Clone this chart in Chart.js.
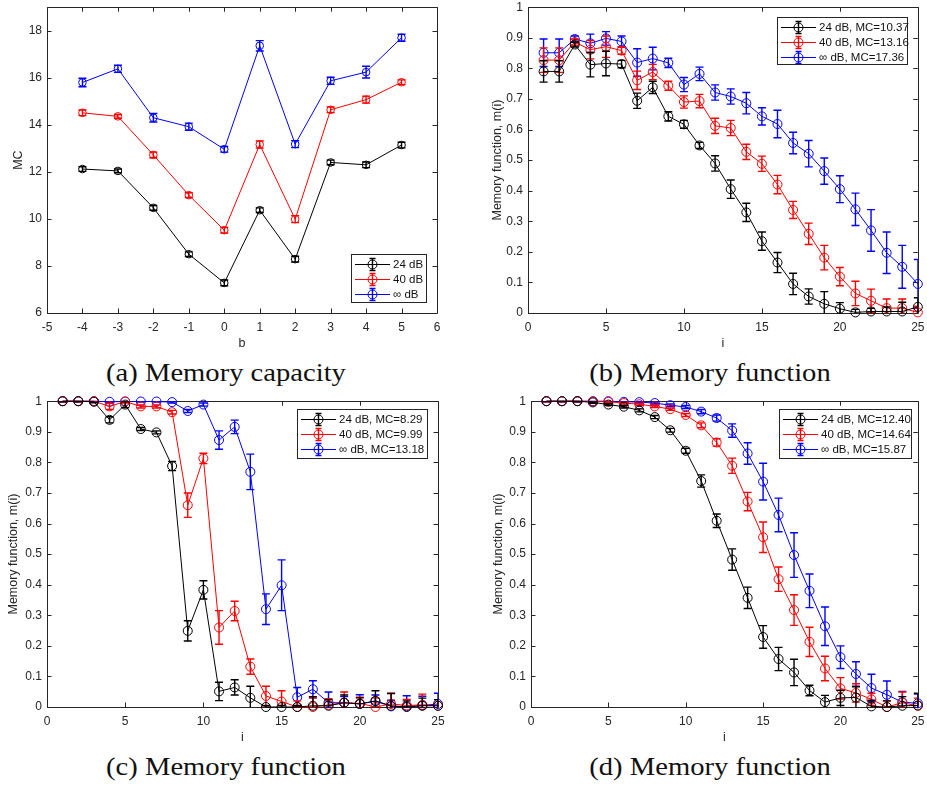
<!DOCTYPE html>
<html>
<head>
<meta charset="utf-8">
<script src="https://cdn.jsdelivr.net/npm/chart.js@4.4.1/dist/chart.umd.min.js"></script>
<style>
  body { margin: 0; background: #fff; width: 927px; height: 787px; overflow: hidden; position: relative; }
  canvas { position: absolute; }
  .cap { position: absolute; width: 460px; height: 28px; line-height: 28px; text-align: center;
         font-family: "Liberation Serif", "DejaVu Serif", serif; font-size: 26px; color: #111;
         transform: scaleX(1.1); }
</style>
</head>
<body>
<canvas id="chartA" width="462" height="357" style="left:0px;top:-5px"></canvas>
<canvas id="chartB" width="470" height="357" style="left:462px;top:-5px"></canvas>
<canvas id="chartC" width="462" height="357" style="left:0px;top:389px"></canvas>
<canvas id="chartD" width="470" height="357" style="left:462px;top:389px"></canvas>
<div class="cap" style="left:-4px;top:359px">(a) Memory capacity</div>
<div class="cap" style="left:480px;top:359px">(b) Memory function</div>
<div class="cap" style="left:-4px;top:753px">(c) Memory function</div>
<div class="cap" style="left:480px;top:753px">(d) Memory function</div>
<script>
// memory capacity against b
var bVals = [-4, -3, -2, -1, 0, 1, 2, 3, 4, 5];
var mc24 = [12.12, 12.04, 10.47, 8.50, 7.28, 10.37, 8.29, 12.40, 12.30, 13.14];
var mc40 = [14.51, 14.36, 12.72, 11.01, 9.52, 13.16, 9.99, 14.64, 15.07, 15.81];
var mcInf = [15.80, 16.38, 14.30, 13.92, 12.96, 17.36, 13.18, 15.87, 16.24, 17.70];
var mc24Err = [0.10, 0.08, 0.10, 0.10, 0.12, 0.10, 0.12, 0.10, 0.12, 0.12];
var mc40Err = [0.12, 0.08, 0.12, 0.10, 0.12, 0.15, 0.15, 0.12, 0.15, 0.10];
var mcInfErr = [0.18, 0.15, 0.18, 0.15, 0.12, 0.22, 0.15, 0.15, 0.25, 0.15];

// memory function m(i), delay i = 1..25
var iVals = [1, 2, 3, 4, 5, 6, 7, 8, 9, 10, 11, 12, 13, 14, 15, 16, 17, 18, 19, 20, 21, 22, 23, 24, 25];

// b = 1
var mfB1_24 = [0.790, 0.790, 0.878, 0.812, 0.816, 0.814, 0.694, 0.738, 0.643, 0.617, 0.548, 0.489, 0.405, 0.329, 0.235, 0.165, 0.095, 0.054, 0.030, 0.014, 0.002, 0.005, 0.005, 0.005, 0.020];
var mfB1_24Err = [0.035, 0.035, 0.008, 0.040, 0.040, 0.012, 0.025, 0.020, 0.015, 0.013, 0.010, 0.025, 0.030, 0.030, 0.030, 0.033, 0.035, 0.025, 0.040, 0.020, 0.010, 0.010, 0.015, 0.030, 0.030];
var mfB1_40 = [0.827, 0.827, 0.886, 0.861, 0.871, 0.858, 0.761, 0.788, 0.743, 0.690, 0.693, 0.612, 0.605, 0.527, 0.488, 0.420, 0.337, 0.259, 0.181, 0.119, 0.064, 0.040, 0.016, 0.016, 0.002];
var mfB1_40Err = [0.040, 0.040, 0.010, 0.030, 0.035, 0.012, 0.030, 0.025, 0.015, 0.020, 0.022, 0.025, 0.025, 0.025, 0.025, 0.030, 0.028, 0.035, 0.040, 0.030, 0.040, 0.038, 0.030, 0.030, 0.020];
var mfB1_inf = [0.851, 0.851, 0.896, 0.882, 0.898, 0.888, 0.819, 0.832, 0.818, 0.747, 0.782, 0.721, 0.708, 0.686, 0.643, 0.618, 0.556, 0.521, 0.464, 0.405, 0.339, 0.270, 0.197, 0.151, 0.095];
var mfB1_infErr = [0.045, 0.045, 0.010, 0.030, 0.022, 0.018, 0.045, 0.037, 0.015, 0.023, 0.022, 0.025, 0.025, 0.035, 0.028, 0.045, 0.035, 0.043, 0.043, 0.044, 0.053, 0.068, 0.068, 0.070, 0.080];

// b = 2
var mfB2_24 = [1.000, 1.000, 0.998, 0.939, 0.989, 0.909, 0.898, 0.788, 0.249, 0.383, 0.051, 0.064, 0.030, 0.000, 0.000, 0.000, 0.004, 0.004, 0.014, 0.010, 0.020, 0.004, 0.000, 0.004, 0.004];
var mfB2_24Err = [0.002, 0.002, 0.003, 0.010, 0.010, 0.005, 0.005, 0.015, 0.033, 0.030, 0.030, 0.025, 0.038, 0.005, 0.005, 0.005, 0.030, 0.020, 0.025, 0.020, 0.033, 0.040, 0.020, 0.025, 0.020];
var mfB2_40 = [1.000, 1.000, 1.000, 0.983, 0.999, 0.983, 0.983, 0.964, 0.660, 0.813, 0.260, 0.314, 0.132, 0.036, 0.018, 0.000, 0.000, 0.007, 0.014, 0.012, 0.000, 0.010, 0.005, 0.007, 0.004];
var mfB2_40Err = [0.002, 0.002, 0.002, 0.010, 0.005, 0.005, 0.005, 0.006, 0.040, 0.017, 0.055, 0.032, 0.025, 0.032, 0.035, 0.020, 0.030, 0.020, 0.035, 0.020, 0.030, 0.035, 0.020, 0.035, 0.020];
var mfB2_inf = [1.000, 1.000, 1.000, 0.998, 0.999, 0.999, 0.999, 0.997, 0.968, 0.989, 0.873, 0.916, 0.769, 0.320, 0.398, 0.032, 0.058, 0.014, 0.014, 0.010, 0.019, 0.002, 0.002, 0.005, 0.010];
var mfB2_infErr = [0.002, 0.002, 0.002, 0.002, 0.002, 0.002, 0.002, 0.003, 0.005, 0.005, 0.030, 0.022, 0.058, 0.050, 0.083, 0.032, 0.028, 0.035, 0.020, 0.030, 0.020, 0.020, 0.035, 0.030, 0.035];

// b = 3
var mfB3_24 = [1.000, 1.000, 1.000, 0.996, 0.989, 0.982, 0.970, 0.948, 0.905, 0.838, 0.739, 0.609, 0.482, 0.357, 0.229, 0.157, 0.113, 0.054, 0.016, 0.030, 0.031, 0.002, 0.000, 0.004, 0.005];
var mfB3_24Err = [0.001, 0.001, 0.002, 0.003, 0.003, 0.004, 0.005, 0.005, 0.006, 0.008, 0.020, 0.022, 0.035, 0.035, 0.037, 0.038, 0.043, 0.017, 0.022, 0.025, 0.035, 0.020, 0.020, 0.030, 0.040];
var mfB3_40 = [1.000, 1.000, 1.000, 0.999, 0.998, 0.994, 0.990, 0.983, 0.974, 0.955, 0.921, 0.865, 0.789, 0.672, 0.555, 0.418, 0.317, 0.213, 0.126, 0.061, 0.046, 0.025, 0.000, 0.014, 0.004];
var mfB3_40Err = [0.002, 0.002, 0.002, 0.002, 0.002, 0.003, 0.003, 0.004, 0.004, 0.005, 0.008, 0.012, 0.025, 0.030, 0.050, 0.040, 0.050, 0.048, 0.040, 0.035, 0.030, 0.020, 0.020, 0.035, 0.025];
var mfB3_inf = [1.000, 1.000, 1.000, 1.000, 1.000, 0.998, 0.997, 0.994, 0.987, 0.981, 0.966, 0.945, 0.904, 0.829, 0.737, 0.628, 0.497, 0.380, 0.264, 0.163, 0.108, 0.062, 0.040, 0.016, 0.012];
var mfB3_infErr = [0.002, 0.002, 0.002, 0.002, 0.002, 0.002, 0.003, 0.003, 0.004, 0.005, 0.007, 0.010, 0.022, 0.035, 0.060, 0.055, 0.073, 0.055, 0.063, 0.037, 0.040, 0.045, 0.045, 0.035, 0.030];

// tick labels
var mcXTicks = [-5, -4, -3, -2, -1, 0, 1, 2, 3, 4, 5, 6];
var mcYTicks = [6, 8, 10, 12, 14, 16, 18];
var mfXTicks = [0, 5, 10, 15, 20, 25];
var mfYTicks = [0, 0.1, 0.2, 0.3, 0.4, 0.5, 0.6, 0.7, 0.8, 0.9, 1];

var AXIS = '#262626';
var SNR = ['24 dB', '40 dB', '\u221E dB'];
var COLORS = ['#000000', '#ff0000', '#0000ff'];

Chart.defaults.font.family = '"Liberation Sans", Arial, sans-serif';
Chart.defaults.color = AXIS;

// vertical error bars with caps, drawn right after each series
var errorBars = {
  id: 'errorBars',
  afterDatasetDraw: function (chart, args) {
    var ds = chart.data.datasets[args.index];
    if (!ds.errors) return;
    var ctx = chart.ctx, a = chart.chartArea, x = chart.scales.x, y = chart.scales.y;
    ctx.save();
    ctx.beginPath();
    ctx.rect(a.left, a.top, a.right - a.left, a.bottom - a.top);
    ctx.clip();
    ctx.strokeStyle = ds.borderColor;
    ctx.lineWidth = 1.4;
    ds.data.forEach(function (p, i) {
      var px = x.getPixelForValue(p.x);
      var top = y.getPixelForValue(p.y + ds.errors[i]);
      var bot = y.getPixelForValue(p.y - ds.errors[i]);
      var c = 4;
      ctx.beginPath();
      ctx.moveTo(px, top); ctx.lineTo(px, bot);
      ctx.moveTo(px - c, top); ctx.lineTo(px + c, top);
      ctx.moveTo(px - c, bot); ctx.lineTo(px + c, bot);
      ctx.stroke();
    });
    ctx.restore();
  }
};

// box around the axes with inward ticks on all four sides
var axesBox = {
  id: 'axesBox',
  beforeDatasetsDraw: function (chart) {
    var ctx = chart.ctx, a = chart.chartArea, x = chart.scales.x, y = chart.scales.y;
    var len = 4.5;
    ctx.save();
    ctx.strokeStyle = AXIS;
    ctx.lineWidth = 1;
    ctx.beginPath();
    ctx.rect(Math.round(a.left) + 0.5, Math.round(a.top) + 0.5, Math.round(a.right - a.left), Math.round(a.bottom - a.top));
    x.ticks.forEach(function (t) {
      var px = Math.round(x.getPixelForValue(t.value)) + 0.5;
      ctx.moveTo(px, a.bottom); ctx.lineTo(px, a.bottom - len);
      ctx.moveTo(px, a.top); ctx.lineTo(px, a.top + len);
    });
    y.ticks.forEach(function (t) {
      var py = Math.round(y.getPixelForValue(t.value)) + 0.5;
      ctx.moveTo(a.left, py); ctx.lineTo(a.left + len, py);
      ctx.moveTo(a.right, py); ctx.lineTo(a.right - len, py);
    });
    ctx.stroke();
    ctx.restore();
  }
};

// legend box inside the axes
var boxLegend = {
  id: 'boxLegend',
  afterDraw: function (chart, args, opts) {
    var ctx = chart.ctx, b = opts.box;
    ctx.save();
    ctx.fillStyle = '#fff';
    ctx.fillRect(b.x, b.y, b.w, b.h);
    ctx.strokeStyle = AXIS;
    ctx.lineWidth = 1;
    ctx.strokeRect(b.x + 0.5, b.y + 0.5, b.w, b.h);
    ctx.font = '11.5px "Liberation Sans", Arial, sans-serif';
    ctx.textBaseline = 'middle';
    chart.data.datasets.forEach(function (ds, k) {
      var yy = b.y + 10.5 + k * 15;
      var x0 = b.x + 4, x1 = x0 + 35, xm = (x0 + x1) / 2;
      ctx.strokeStyle = ds.borderColor;
      ctx.lineWidth = 1;
      ctx.beginPath();
      ctx.moveTo(x0, yy); ctx.lineTo(x1, yy);
      ctx.stroke();
      ctx.lineWidth = 1.4;
      ctx.beginPath();
      ctx.moveTo(xm, yy - 6); ctx.lineTo(xm, yy + 6);
      ctx.moveTo(xm - 3, yy - 6); ctx.lineTo(xm + 3, yy - 6);
      ctx.moveTo(xm - 3, yy + 6); ctx.lineTo(xm + 3, yy + 6);
      ctx.stroke();
      ctx.lineWidth = 1;
      ctx.beginPath();
      ctx.arc(xm, yy, 4.5, 0, Math.PI * 2);
      ctx.stroke();
      ctx.fillStyle = '#111';
      ctx.fillText(ds.label, x1 + 3, yy + 0.5);
    });
    ctx.restore();
  }
};

function series(label, color, xs, ys, errs, radius) {
  return {
    label: label,
    data: xs.map(function (v, i) { return { x: v, y: ys[i] }; }),
    errors: errs,
    borderColor: color,
    backgroundColor: color,
    borderWidth: 1,
    tension: 0,
    pointStyle: 'circle',
    pointRadius: radius,
    pointBorderWidth: 1,
    pointBackgroundColor: 'rgba(0,0,0,0)',
    pointBorderColor: color,
    clip: false
  };
}

function axis(min, max, ticks, title, fitSize, titlePad, horizontal) {
  return {
    type: 'linear',
    min: min,
    max: max,
    grid: { display: false, drawTicks: false },
    border: { display: false },
    afterBuildTicks: function (scale) {
      scale.ticks = ticks.map(function (v) { return { value: v }; });
    },
    afterFit: function (scale) {
      if (scale.isHorizontal()) scale.height = fitSize; else scale.width = fitSize;
    },
    ticks: {
      autoSkip: false,
      maxRotation: 0,
      padding: horizontal ? 7.5 : 5,
      color: AXIS,
      font: { size: 12 },
      callback: function (v) { return String(v); }
    },
    title: { display: true, text: title, color: AXIS, font: { size: 12.5 }, padding: titlePad }
  };
}

function makeChart(id, datasets, xs, ys, pad, legendBox) {
  return new Chart(document.getElementById(id), {
    type: 'line',
    data: { datasets: datasets },
    plugins: [axesBox, errorBars, boxLegend],
    options: {
      responsive: false,
      animation: false,
      devicePixelRatio: 1,
      layout: { padding: pad },
      scales: { x: xs, y: ys },
      plugins: {
        legend: { display: false },
        tooltip: { enabled: false },
        boxLegend: { box: legendBox }
      }
    }
  });
}

function mcLabel(k, idx) {
  var mc = [mc24, mc40, mcInf][k][idx];
  return SNR[k] + ', MC=' + mc.toFixed(2);
}

// (a) memory capacity
makeChart('chartA', [
  series(SNR[0], COLORS[0], bVals, mc24, mc24Err, 3.8),
  series(SNR[1], COLORS[1], bVals, mc40, mc40Err, 3.8),
  series(SNR[2], COLORS[2], bVals, mcInf, mcInfErr, 3.8)
], axis(-5, 6, mcXTicks, 'b', 39, { top: 0, bottom: 1 }, true),
   axis(6, 19, mcYTicks, 'MC', 47, { top: 11, bottom: 0 }, false),
   { top: 10, right: 25, left: 0, bottom: 0 },
   { x: 351, y: 259, w: 75, h: 48 });

// (b), (c), (d) memory function for b = 1, 2, 3
var mfSets = [
  ['chartB', 5, [mfB1_24, mfB1_40, mfB1_inf], [mfB1_24Err, mfB1_40Err, mfB1_infErr], 66, 28, 13, { x: 315, y: 22, w: 130, h: 47 }],
  ['chartC', 6, [mfB2_24, mfB2_40, mfB2_inf], [mfB2_24Err, mfB2_40Err, mfB2_infErr], 47, 6, 24, { x: 297, y: 20, w: 130, h: 49 }],
  ['chartD', 7, [mfB3_24, mfB3_40, mfB3_inf], [mfB3_24Err, mfB3_40Err, mfB3_infErr], 69, 29, 10, { x: 317, y: 20, w: 132, h: 49 }]
];

mfSets.forEach(function (s) {
  var ds = [0, 1, 2].map(function (k) {
    return series(mcLabel(k, s[1]), COLORS[k], iVals, s[2][k], s[3][k], 4.5);
  });
  makeChart(s[0], ds,
    axis(0, 25, mfXTicks, 'i', 39, { top: 0, bottom: 1 }, true),
    axis(0, 1, mfYTicks, 'Memory function, m(i)', s[4], { top: s[5], bottom: 0 }, false),
    { top: 10, right: s[6], left: 0, bottom: 0 },
    s[7]);
});
</script>
</body>
</html>
